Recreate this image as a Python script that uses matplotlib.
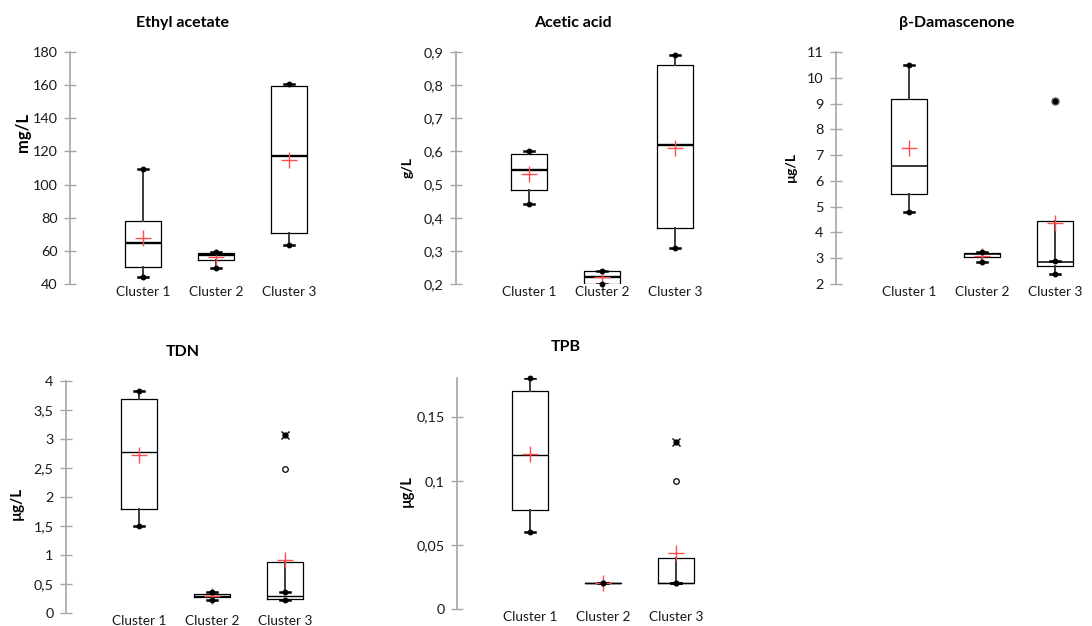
import matplotlib
matplotlib.use("Agg")
import matplotlib.pyplot as plt
from matplotlib.ticker import FuncFormatter

plt.rcParams['font.family'] = ['Lato', 'DejaVu Sans']

clusters = ["Cluster 1", "Cluster 2", "Cluster 3"]

# ---- data: box statistics per chart ----
ea_whislo = [44, 49.5, 63.5]
ea_q1 = [50, 54.5, 70.5]
ea_med = [64.5, 57.8, 117]
ea_q3 = [78, 58.7, 159.5]
ea_whishi = [109.5, 59.2, 160.5]
ea_mean = [68, 56, 115]
ea_out = [[], [], []]
ea_ext = [[], [], []]

aa_whislo = [0.44, 0.20, 0.31]
aa_q1 = [0.485, 0.20, 0.37]
aa_med = [0.545, 0.22, 0.62]
aa_q3 = [0.593, 0.24, 0.86]
aa_whishi = [0.60, 0.24, 0.89]
aa_mean = [0.533, 0.22, 0.61]
aa_out = [[], [], []]
aa_ext = [[], [], []]

bd_whislo = [4.8, 2.85, 2.37]
bd_q1 = [5.5, 3.05, 2.71]
bd_med = [6.57, 3.17, 2.87]
bd_q3 = [9.17, 3.22, 4.44]
bd_whishi = [10.5, 3.25, 2.89]
bd_mean = [7.28, 3.1, 4.35]
bd_out = [[], [], [9.08]]
bd_ext = [[], [], []]

tdn_whislo = [1.50, 0.23, 0.22]
tdn_q1 = [1.80, 0.27, 0.25]
tdn_med = [2.78, 0.29, 0.29]
tdn_q3 = [3.69, 0.32, 0.88]
tdn_whishi = [3.83, 0.36, 0.36]
tdn_mean = [2.73, 0.29, 0.91]
tdn_out = [[], [], [2.48]]
tdn_ext = [[], [], [3.07]]

tpb_whislo = [0.06, 0.02, 0.02]
tpb_q1 = [0.0775, 0.02, 0.02]
tpb_med = [0.12, 0.02, 0.02]
tpb_q3 = [0.17, 0.02, 0.04]
tpb_whishi = [0.18, 0.02, 0.02]
tpb_mean = [0.121, 0.02, 0.044]
tpb_out = [[], [], [0.10]]
tpb_ext = [[], [], [0.13]]

titles = ["Ethyl acetate", "Acetic acid", "\u03b2-Damascenone", "TDN", "TPB"]
units = ["mg/L", "g/L", "\u00b5g/L", "\u00b5g/L", "\u00b5g/L"]
yticks = [
    [40, 60, 80, 100, 120, 140, 160, 180],
    [0.2, 0.3, 0.4, 0.5, 0.6, 0.7, 0.8, 0.9],
    [2, 3, 4, 5, 6, 7, 8, 9, 10, 11],
    [0, 0.5, 1, 1.5, 2, 2.5, 3, 3.5, 4],
    [0, 0.05, 0.1, 0.15],
]
ylims = [(40, 180), (0.2, 0.9), (2, 11), (0, 4), (0, 0.18)]

charts = [
    (ea_whislo, ea_q1, ea_med, ea_q3, ea_whishi, ea_mean, ea_out, ea_ext),
    (aa_whislo, aa_q1, aa_med, aa_q3, aa_whishi, aa_mean, aa_out, aa_ext),
    (bd_whislo, bd_q1, bd_med, bd_q3, bd_whishi, bd_mean, bd_out, bd_ext),
    (tdn_whislo, tdn_q1, tdn_med, tdn_q3, tdn_whishi, tdn_mean, tdn_out, tdn_ext),
    (tpb_whislo, tpb_q1, tpb_med, tpb_q3, tpb_whishi, tpb_mean, tpb_out, tpb_ext),
]

# ---- layout (pixels) ----
W, H = 1092, 626
fig = plt.figure(figsize=(W / 100, H / 100), dpi=100)
fig.patch.set_facecolor("white")

# (axis x, top y, bottom y)
rects = [(70, 52, 284), (456, 52, 284), (836, 52, 284), (66, 381, 613), (457, 378, 609)]
title_pos = [(183, 23), (573, 23), (957, 23), (183, 352), (566, 347)]
ylabel_pos = [(23, 132), (408, 167), (791, 167), (17, 503), (407, 491)]
ylabel_sizes = [12, 10, 10, 11, 10.5]
median_lw = [1.7, 1.7, 1.1, 1.0, 1.0]
unit_px = 73.0
xmax = 3.6

fmt = FuncFormatter(lambda v, p: f"{v:g}".replace(".", ","))

for i, (stats_src, ttl, unit, yt, yl) in enumerate(zip(charts, titles, units, yticks, ylims)):
    x0, ytop, ybot = rects[i]
    wpx = unit_px * xmax
    ax = fig.add_axes([x0 / W, 1 - ybot / H, wpx / W, (ybot - ytop) / H])
    wl, q1, md, q3, wh, mn, outs, exts = stats_src
    stats = []
    for k in range(3):
        stats.append(dict(med=md[k], q1=q1[k], q3=q3[k], whislo=wl[k], whishi=wh[k],
                          mean=mn[k], fliers=[], label=clusters[k]))
    ax.bxp(stats, positions=[1, 2, 3], widths=0.5, capwidths=0.15,
           showmeans=True, showfliers=False,
           boxprops=dict(color="black", linewidth=0.9),
           medianprops=dict(color="black", linewidth=median_lw[i]),
           whiskerprops=dict(color="#3c3c3c", linewidth=1.4),
           capprops=dict(color="black", linewidth=1.8),
           meanprops=dict(marker="+", markersize=11, markeredgecolor="#ff4d4d",
                          markeredgewidth=1.0, linestyle="none"))
    for k in range(3):
        ax.plot([k + 1, k + 1], [wl[k], wh[k]], linestyle="none", marker="o",
                markersize=3.2, color="black", clip_on=False, zorder=4)
        for v in outs[k]:
            if i == 2:
                ax.plot(k + 1, v, marker="o", markersize=5, color="black",
                        markeredgecolor="#555555", clip_on=False, zorder=5)
            else:
                ax.plot(k + 1, v, marker="o", markersize=4, markerfacecolor="white",
                        markeredgecolor="black", markeredgewidth=0.9, clip_on=False, zorder=5)
        for v in exts[k]:
            ax.plot(k + 1, v, marker="x", markersize=6, color="black",
                    markeredgewidth=1.0, clip_on=False, zorder=5)
            ax.plot(k + 1, v, marker="o", markersize=3.5, color="black", clip_on=False, zorder=5)
    ax.set_xlim(0, xmax)
    ax.set_ylim(*yl)
    ax.set_yticks(yt)
    ax.yaxis.set_major_formatter(fmt)
    ax.set_xticks([1, 2, 3])
    ax.set_xticklabels(clusters, fontsize=9.8, color="#1a1a1a")
    ax.tick_params(axis="x", length=0, pad=1.5)
    ax.tick_params(axis="y", direction="inout", length=8, width=1, color="#a6a6a6",
                   labelsize=10.4, labelcolor="#1a1a1a", pad=5)
    for s in ["top", "right", "bottom"]:
        ax.spines[s].set_visible(False)
    ax.spines["left"].set_color("#a6a6a6")
    ax.spines["left"].set_linewidth(1.2)
    ax.patch.set_alpha(0)

    tx, ty = title_pos[i]
    fig.text(tx / W, 1 - ty / H, ttl, ha="center", va="center", fontsize=11.5,
             fontweight="bold", color="black")
    lx, ly = ylabel_pos[i]
    fig.text(lx / W, 1 - ly / H, unit, ha="center", va="center", fontsize=ylabel_sizes[i],
             fontweight="bold", rotation=90, color="black")

fig.savefig("out.png", dpi=100)
